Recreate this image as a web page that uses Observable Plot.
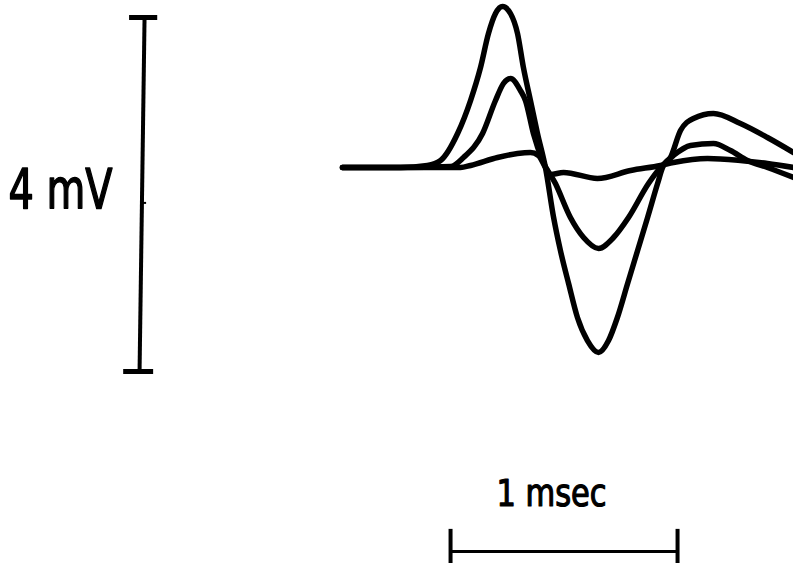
<!DOCTYPE html>
<html>
<head>
<meta charset="utf-8">
<script src="https://cdn.jsdelivr.net/npm/d3@7"></script>
<script src="https://cdn.jsdelivr.net/npm/@observablehq/plot@0.6"></script>
<style>
  html, body { margin: 0; padding: 0; background: #fff; }
  #chart { width: 793px; height: 563px; overflow: hidden; }
  svg text { font-family: "DejaVu Sans", "Liberation Sans", sans-serif; font-stretch: condensed; }
</style>
</head>
<body>
<div id="chart"></div>
<script>
// Time (msec) and voltage (mV) of the three recorded traces
const timeA = [0, 0.256, 0.374, 0.432, 0.507, 0.564, 0.608, 0.643, 0.674, 0.705, 0.740, 0.771, 0.797, 0.828, 0.859, 0.894, 0.930, 0.960, 0.996, 1.035, 1.079, 1.128, 1.172, 1.211, 1.256, 1.300, 1.344, 1.388, 1.410, 1.445, 1.489, 1.546, 1.634, 1.753, 1.872, 1.987];
const voltA = [0, 0, 0.023, 0.079, 0.384, 0.757, 1.130, 1.514, 1.740, 1.819, 1.740, 1.514, 1.130, 0.757, 0.384, 0, -0.565, -0.938, -1.311, -1.695, -1.955, -2.090, -1.955, -1.695, -1.311, -0.938, -0.565, -0.181, 0, 0.113, 0.418, 0.554, 0.610, 0.497, 0.339, 0.169];

const timeB = [0, 0.256, 0.476, 0.533, 0.617, 0.674, 0.709, 0.740, 0.784, 0.806, 0.841, 0.881, 0.938, 1.004, 1.062, 1.128, 1.194, 1.260, 1.348, 1.401, 1.458, 1.533, 1.634, 1.709, 1.784, 1.872, 1.987];
const voltB = [0, 0, 0.011, 0.113, 0.384, 0.757, 0.949, 1.006, 0.870, 0.757, 0.384, 0.079, -0.181, -0.565, -0.791, -0.915, -0.791, -0.565, -0.181, 0, 0.136, 0.249, 0.271, 0.192, 0.079, 0, -0.113];

const timeC = [0, 0.256, 0.520, 0.564, 0.683, 0.771, 0.828, 0.863, 0.894, 0.916, 0.974, 1.123, 1.269, 1.401, 1.458, 1.608, 1.753, 1.872, 1.987];
const voltC = [0, 0, 0, 0.023, 0.113, 0.158, 0.169, 0.136, 0, -0.079, -0.056, -0.124, -0.034, 0.023, 0.056, 0.102, 0.079, 0.045, 0];

// Calibration bars: 4 mV vertical, 1 msec horizontal
const voltBarTime = [-0.872, -0.894];
const voltBarRange = [1.695, -2.305];
const voltLabel = "4 mV";
const timeBarRange = [0.476, 1.476];
const timeBarLevel = -4.339;
const timeLabel = "1 msec";

const trace = (ts, vs, id) => ts.map((t, i) => ({t, v: vs[i], id}));
const traces = [...trace(timeA, voltA, "A"), ...trace(timeB, voltB, "B"), ...trace(timeC, voltC, "C")];

const vBar = [{t1: voltBarTime[0], v1: voltBarRange[0], t2: voltBarTime[1], v2: voltBarRange[1]}];
const vCaps = [
  {t1: voltBarTime[0] - 0.066, t2: voltBarTime[0] + 0.058, v: voltBarRange[0]},
  {t1: voltBarTime[1] - 0.070, t2: voltBarTime[1] + 0.062, v: voltBarRange[1]}
];
const vMid = [{t1: (voltBarTime[0] + voltBarTime[1]) / 2, t2: (voltBarTime[0] + voltBarTime[1]) / 2 + 0.02, v: (voltBarRange[0] + voltBarRange[1]) / 2 - 0.095}];
const tBar = [{t1: timeBarRange[0], t2: timeBarRange[1], v: timeBarLevel}];
const tCaps = timeBarRange.map(t => ({t, v1: timeBarLevel + 0.25, v2: timeBarLevel - 0.35}));

const chart = Plot.plot({
  width: 793,
  height: 563,
  margin: 0,
  x: {domain: [-342 / 227, 451 / 227], axis: null},
  y: {domain: [(167 - 563) / 88.5, 167 / 88.5], axis: null},
  marks: [
    Plot.line(traces, {x: "t", y: "v", z: "id", curve: "monotone-x", stroke: "#000", strokeWidth: 5.5, strokeLinejoin: "round", strokeLinecap: "round"}),
    Plot.link(vBar, {x1: "t1", y1: "v1", x2: "t2", y2: "v2", stroke: "#000", strokeWidth: 4}),
    Plot.ruleY(vCaps, {x1: "t1", x2: "t2", y: "v", stroke: "#000", strokeWidth: 5}),
    Plot.ruleY(vMid, {x1: "t1", x2: "t2", y: "v", stroke: "#000", strokeWidth: 2}),
    Plot.ruleY(tBar, {x1: "t1", x2: "t2", y: "v", stroke: "#000", strokeWidth: 3}),
    Plot.ruleX(tCaps, {x: "t", y1: "v1", y2: "v2", stroke: "#000", strokeWidth: 4}),
    Plot.text([voltLabel], {x: -1.471, y: -0.452, text: d => d, textAnchor: "start", lineAnchor: "bottom", fontSize: 55, fill: "#000", stroke: "#000", strokeWidth: 1.5, className: "vlabel"}),
    Plot.text([timeLabel], {x: 0.921, y: -3.83, text: d => d, textAnchor: "middle", lineAnchor: "bottom", fontSize: 38, fill: "#000", stroke: "#000", strokeWidth: 1.2, className: "tlabel"})
  ]
});
document.getElementById("chart").appendChild(chart);
// narrow the lettering like the typed labels
d3.select(chart).selectAll(".vlabel text").attr("textLength", 104).attr("lengthAdjust", "spacingAndGlyphs");
d3.select(chart).selectAll(".tlabel text").attr("textLength", 110).attr("lengthAdjust", "spacingAndGlyphs");
</script>
</body>
</html>
